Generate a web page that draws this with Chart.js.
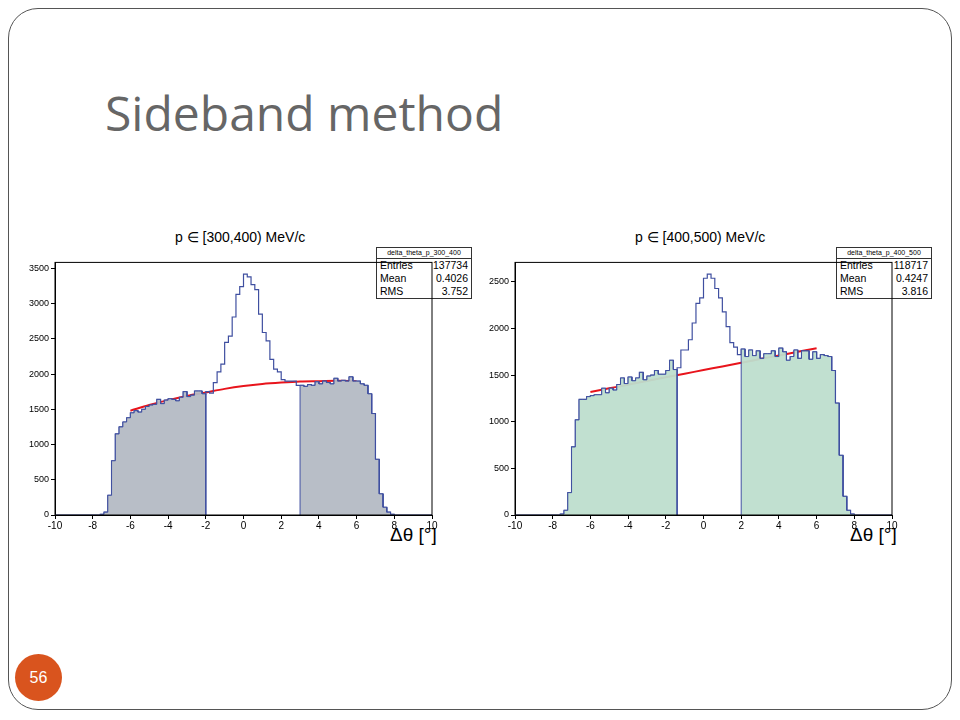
<!DOCTYPE html>
<html>
<head>
<meta charset="utf-8">
<script src="https://cdn.jsdelivr.net/npm/chart.js@4"></script>
<style>
  body { margin: 0; width: 960px; height: 720px; background: #fff; font-family: "Liberation Sans", Arial, sans-serif; overflow: hidden; }
  .frame { position: absolute; left: 8px; top: 8px; width: 944px; height: 702px; border: 1px solid #555; border-radius: 30px; box-sizing: border-box; }
  h1 { position: absolute; left: 105px; top: 80px; margin: 0; font-weight: normal; font-size: 48px; color: #666; font-family: "Open Sans", "Liberation Sans", sans-serif; }
  .num { position: absolute; left: 15px; top: 654px; width: 47px; height: 47px; border-radius: 50%; background: #d9541e; color: #fff; font-size: 16px; text-align: center; line-height: 47px; }
  .ttl { position: absolute; top: 229px; font-size: 14px; }
  .stats { position: absolute; top: 247px; width: 96px; border: 1px solid #333; background: #fff; font-size: 10.5px; box-sizing: border-box; }
  .stats .h { font-size: 7px; line-height: 10px; text-align: center; border-bottom: 1px solid #333; }
  .stats .r { display: flex; justify-content: space-between; padding: 0 3px; line-height: 13px; }
  .xt { position: absolute; top: 524px; font-size: 19px; }
  canvas { position: absolute; }
</style>
</head>
<body>
<div class="frame"></div>
<h1>Sideband method</h1>
<div class="num">56</div>

<div class="ttl" style="left:175px">p ∈ [300,400) MeV/c</div>
<div class="ttl" style="left:635px">p ∈ [400,500) MeV/c</div>
<div class="stats" style="left:376px"><div class="h">delta_theta_p_300_400</div>
  <div class="r"><span>Entries</span><span>137734</span></div>
  <div class="r"><span>Mean</span><span>0.4026</span></div>
  <div class="r"><span>RMS</span><span>3.752</span></div></div>
<div class="stats" style="left:836px"><div class="h">delta_theta_p_400_500</div>
  <div class="r"><span>Entries</span><span>118717</span></div>
  <div class="r"><span>Mean</span><span>0.4247</span></div>
  <div class="r"><span>RMS</span><span>3.816</span></div></div>
<div class="xt" style="left:390px">Δθ [°]</div>
<div class="xt" style="left:850px">Δθ [°]</div>

<canvas id="c1" style="left:18px;top:255px" width="424" height="290"></canvas>
<canvas id="c2" style="left:478px;top:255px" width="424" height="290"></canvas>

<script>
// bins of width 0.2, lower edges starting at -7.6
const binStart = -7.6;
const binWidth = 0.2;
const counts1 = [10, 40, 280, 770, 1150, 1250, 1320, 1380, 1450, 1480, 1460, 1500, 1540, 1560, 1570, 1640, 1580, 1630,
  1650, 1640, 1620, 1670, 1750, 1680, 1700, 1760, 1760, 1720, 1750, 1730, 1880, 2030, 2140, 2450, 2540, 2810, 3130, 3240,
  3420, 3380, 3270, 3200, 2850, 2590, 2470, 2210, 2070, 2030, 1920, 1900, 1900, 1900, 1840, 1840, 1825, 1850, 1840, 1890,
  1860, 1900, 1880, 1860, 1940, 1900, 1910, 1900, 1960, 1900, 1900, 1860, 1840, 1720, 1440, 790, 300, 110, 40, 10];
const counts2 = [10, 50, 240, 730, 1020, 1240, 1240, 1270, 1280, 1290, 1290, 1360, 1310, 1360, 1340, 1400, 1470, 1410,
  1480, 1440, 1470, 1530, 1450, 1490, 1500, 1550, 1510, 1510, 1550, 1660, 1560, 1580, 1770, 1770, 1880, 2060, 2270, 2330,
  2540, 2585, 2540, 2430, 2330, 2180, 2020, 1850, 1800, 1720, 1780, 1700, 1770, 1710, 1760, 1680, 1730, 1730, 1760, 1700,
  1790, 1750, 1660, 1700, 1770, 1680, 1760, 1760, 1670, 1750, 1680, 1720, 1710, 1700, 1550, 1200, 640, 200, 50, 10];
// sideband limits [left upper edge, right lower edge]
const side1 = [-2, 3];
const side2 = [-1.4, 2];
// background fits
const fitX = [-6, -5, -4, -3, -2, -1, 0, 1, 2, 3, 4, 5, 6];
const fit1 = [1480, 1560, 1630, 1690, 1740, 1790, 1830, 1860, 1880, 1895, 1900, 1905, 1900];
const fit2 = [1320, 1359, 1398, 1438, 1477, 1516, 1555, 1594, 1633, 1673, 1712, 1751, 1790];
const xTicks = [-10, -8, -6, -4, -2, 0, 2, 4, 6, 8, 10];

function outline(counts) {
  const pts = [{x: -10, y: 0}, {x: binStart, y: 0}];
  counts.forEach((v, i) => {
    const lo = +(binStart + i * binWidth).toFixed(2);
    pts.push({x: lo, y: v}, {x: +(lo + binWidth).toFixed(2), y: v});
  });
  pts.push({x: pts[pts.length - 1].x, y: 0}, {x: 10, y: 0});
  return pts;
}
function sidebands(counts, lim) {
  const pts = [];
  counts.forEach((v, i) => {
    const lo = +(binStart + i * binWidth).toFixed(2), hi = +(lo + binWidth).toFixed(2);
    if (hi <= lim[0] + 1e-6 || lo >= lim[1] - 1e-6) {
      if (lo >= lim[1] - 1e-6 && pts.length && pts[pts.length - 1].x <= lim[0] + 1e-6) {
        pts.push({x: lim[0], y: 0}, {x: lim[0] + 0.01, y: null}, {x: lim[1], y: 0});
      }
      pts.push({x: lo, y: v}, {x: hi, y: v});
    }
  });
  return pts;
}

const frame = {
  id: 'frame',
  afterDraw(c) {
    const a = c.chartArea, g = c.ctx;
    g.save(); g.strokeStyle = '#000'; g.lineWidth = 1;
    g.strokeRect(a.left, a.top, a.right - a.left, a.bottom - a.top);
    g.restore();
  }
};

function make(id, counts, lim, fit, fill, ymax) {
  new Chart(document.getElementById(id), {
    type: 'line',
    data: {
      datasets: [
        { data: sidebands(counts, lim), borderColor: '#3f4fa0', borderWidth: 1, backgroundColor: fill,
          fill: 'origin', pointRadius: 0, spanGaps: false, tension: 0 },
        { data: outline(counts), borderColor: '#3f4fa0', borderWidth: 1.2, fill: false, pointRadius: 0, tension: 0 },
        { data: fitX.map((x, i) => ({x, y: fit[i]})), borderColor: '#e8141c', borderWidth: 2, fill: false,
          pointRadius: 0, cubicInterpolationMode: 'monotone' }
      ]
    },
    options: {
      responsive: false, animation: false,
      layout: { padding: { top: 3, right: 10 } },
      plugins: { legend: { display: false }, tooltip: { enabled: false } },
      scales: {
        x: { type: 'linear', min: -10, max: 10,
          afterBuildTicks: s => { s.ticks = xTicks.map(v => ({value: v})); },
          afterFit: s => { s.height = 30; },
          grid: { drawOnChartArea: false, color: '#000', tickLength: 4 }, border: { color: '#000' },
          ticks: { color: '#000', font: { size: 10, family: 'Liberation Sans' }, maxRotation: 0, padding: 1,
            callback: v => String(v) } },
        y: { min: 0, max: ymax,
          afterBuildTicks: s => { const t = []; for (let v = 0; v <= ymax; v += 500) t.push({value: v}); s.ticks = t; },
          afterFit: s => { s.width = 37; },
          grid: { drawOnChartArea: false, color: '#000', tickLength: 4 }, border: { color: '#000' },
          ticks: { color: '#000', font: { size: 9, family: 'Liberation Sans' }, padding: 2, callback: v => String(v) } }
      }
    },
    plugins: [frame]
  });
}

make('c1', counts1, side1, fit1, 'rgba(180,186,196,0.95)', 3585);
make('c2', counts2, side2, fit2, 'rgba(190,222,206,0.95)', 2710);
</script>
</body>
</html>
